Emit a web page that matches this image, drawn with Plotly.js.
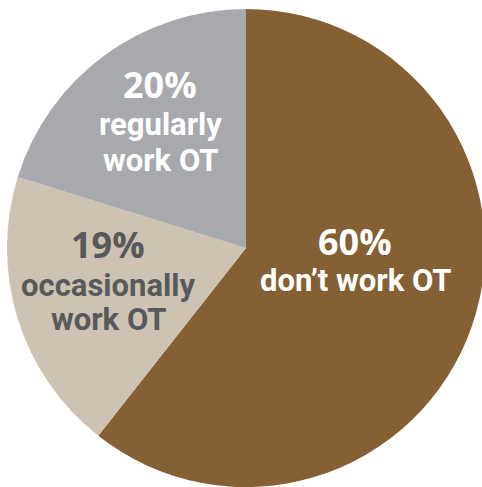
<!DOCTYPE html>
<html>
<head>
<meta charset="utf-8">
<script src="https://cdn.plot.ly/plotly-3.0.1.min.js"></script>
<style>
  html, body { margin: 0; padding: 0; background: #ffffff; overflow: hidden; }
  #chart { width: 482px; height: 487px; }
</style>
</head>
<body>
<div id="chart"></div>
<script>
// Data
const categories = ["don\u2019t work OT", "occasionally work OT", "regularly work OT"];
const shares = [60, 19, 20];
const percentLabels = ["60%", "19%", "20%"];
const labelLines = [["don\u2019t work OT"], ["occasionally", "work OT"], ["regularly", "work OT"]];

// Styles
const sliceColors = ["#866035", "#cec2b2", "#a7a9ac"];
const textColors = ["#ffffff", "#58595b", "#ffffff"];
const W = 492, H = 487;
const PCT_FONT = "Open Sans, Roboto, sans-serif";
const WORD_FONT = "Roboto, sans-serif";

// label anchor positions in px (center x, line centers y)
const labelPos = [
  {x: 355, ys: [242, 280]},
  {x: 108, ys: [245, 285, 319]},
  {x: 160, ys: [85, 124, 161]}
];

const annotations = [];
categories.forEach((c, i) => {
  const lines = [percentLabels[i]].concat(labelLines[i]);
  lines.forEach((t, j) => {
    annotations.push({
      text: "<b>" + t + "</b>",
      x: labelPos[i].x / W, y: 1 - labelPos[i].ys[j] / H,
      xref: "paper", yref: "paper",
      xanchor: "center", yanchor: "middle",
      showarrow: false,
      font: j === 0
        ? {family: PCT_FONT, size: 36, color: textColors[i]}
        : {family: WORD_FONT, size: 31, color: textColors[i]}
    });
  });
});

const trace = {
  type: "pie",
  labels: categories,
  values: shares,
  sort: false,
  direction: "clockwise",
  rotation: 0,
  textinfo: "none",
  hoverinfo: "label+percent",
  marker: {colors: sliceColors, line: {width: 0}},
  domain: {x: [7 / W, 485 / W], y: [0, 478 / H]},
  showlegend: false
};

Plotly.newPlot("chart", [trace], {
  width: W, height: H,
  margin: {l: 0, r: 0, t: 0, b: 0},
  paper_bgcolor: "#ffffff",
  showlegend: false,
  annotations: annotations
}, {displayModeBar: false, staticPlot: true});
</script>
</body>
</html>
